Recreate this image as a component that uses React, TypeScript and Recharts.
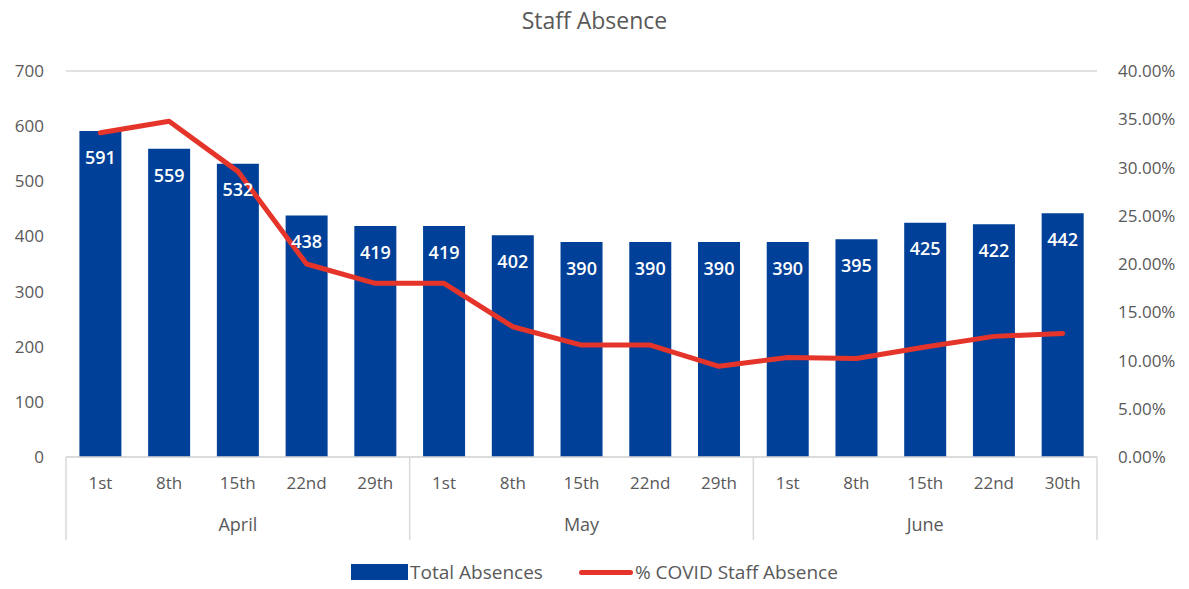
import React from 'react';
import { ComposedChart, Bar, Line, XAxis, YAxis, CartesianGrid, Legend, LabelList } from 'recharts';

const days = ['1st', '8th', '15th', '22nd', '29th', '1st', '8th', '15th', '22nd', '29th', '1st', '8th', '15th', '22nd', '30th'];
const months = ['April', 'April', 'April', 'April', 'April', 'May', 'May', 'May', 'May', 'May', 'June', 'June', 'June', 'June', 'June'];
const totalAbsences = [591, 559, 532, 438, 419, 419, 402, 390, 390, 390, 390, 395, 425, 422, 442];
const covidPct = [0.336, 0.348, 0.296, 0.2, 0.18, 0.18, 0.135, 0.116, 0.116, 0.094, 0.103, 0.102, 0.114, 0.125, 0.128];
const leftTicks = [0, 100, 200, 300, 400, 500, 600, 700];
const rightTicks = [0, 0.05, 0.1, 0.15, 0.2, 0.25, 0.3, 0.35, 0.4];

const data = days.map((d, i) => ({
  day: d,
  month: months[i],
  total: totalAbsences[i],
  pct: covidPct[i],
}));

const FONT = '"Open Sans", "Noto Sans", sans-serif';
const TEXT = '#595959';
const GRID = '#d9d9d9';
const BLUE = '#004098';
const RED = '#e5352a';

const MonthTick = (props: any) => {
  const { x, y, payload } = props;
  const idx = payload.index;
  const half = payload.offset || 34.37;
  const els: any[] = [];
  const top = y - 45 - 8;
  const bottom = y + 30;
  const isStart = idx === 0 || months[idx] !== months[idx - 1];
  const isEnd = idx === months.length - 1;
  if (isStart) {
    els.push(<line key="s" x1={x - half} x2={x - half} y1={top} y2={bottom} stroke={GRID} strokeWidth={1.5} />);
  }
  if (isEnd) {
    els.push(<line key="e" x1={x + half} x2={x + half} y1={top} y2={bottom} stroke={GRID} strokeWidth={1.5} />);
  }
  const first = months.indexOf(months[idx]);
  const last = months.lastIndexOf(months[idx]);
  const mid = (first + last) / 2;
  if (idx === Math.floor(mid)) {
    const shift = (mid - Math.floor(mid)) * 2 * half;
    els.push(
      <text key="t" x={x + shift} y={y + 21} textAnchor="middle" fill={TEXT} fontSize={18} fontFamily={FONT}>
        {months[idx]}
      </text>
    );
  }
  return <g>{els}</g>;
};

const renderLegend = () => (
  <div style={{ height: 42, display: 'flex', justifyContent: 'center', alignItems: 'center', fontFamily: FONT, fontSize: 19, color: TEXT, paddingTop: 8, boxSizing: 'border-box' }}>
    <span style={{ display: 'inline-flex', alignItems: 'center', marginRight: 36 }}>
      <span style={{ display: 'inline-block', width: 57, height: 16, background: BLUE, marginRight: 2 }} />
      Total Absences
    </span>
    <span style={{ display: 'inline-flex', alignItems: 'center' }}>
      <span style={{ display: 'inline-block', width: 54, height: 5, background: RED, borderRadius: 3, marginRight: 2 }} />
      % COVID Staff Absence
    </span>
  </div>
);

export default function App() {
  return (
    <div style={{ position: 'absolute', left: 0, top: 0, width: 1189, height: 589, background: '#fff' }}>
      <div style={{ position: 'absolute', left: 0, top: 4, width: 1189, textAlign: 'center', fontFamily: FONT, fontSize: 23, color: TEXT }}>
        Staff Absence
      </div>
      <ComposedChart
        width={1189}
        height={589}
        data={data}
        margin={{ top: 71, right: 0, left: 0, bottom: 0 }}
        barCategoryGap="19.5%"
      >
        <CartesianGrid vertical={false} stroke={GRID} strokeWidth={1.5} />
        <XAxis
          dataKey="day"
          xAxisId={0}
          height={45}
          axisLine={{ stroke: GRID, strokeWidth: 1.5 }}
          tickLine={false}
          tickMargin={14}
          tick={{ fill: TEXT, fontSize: 17, fontFamily: FONT }}
          interval={0}
        />
        <XAxis
          dataKey="month"
          xAxisId="m"
          height={45}
          axisLine={false}
          tickLine={false}
          tickMargin={2}
          tick={<MonthTick />}
          interval={0}
        />
        <YAxis
          yAxisId="left"
          width={66}
          domain={[0, 700]}
          ticks={leftTicks}
          axisLine={false}
          tickLine={false}
          tickMargin={16}
          tick={{ fill: TEXT, fontSize: 17, fontFamily: FONT }}
        />
        <YAxis
          yAxisId="right"
          orientation="right"
          width={92}
          domain={[0, 0.4]}
          ticks={rightTicks}
          axisLine={false}
          tickLine={false}
          tickMargin={15}
          tickFormatter={(v: number) => (v * 100).toFixed(2) + '%'}
          tick={{ fill: TEXT, fontSize: 17, fontFamily: FONT, textAnchor: 'start' }}
        />
        <Legend verticalAlign="bottom" content={renderLegend} height={42} />
        <Bar yAxisId="left" xAxisId={0} dataKey="total" name="Total Absences" fill={BLUE} isAnimationActive={false}>
          <LabelList dataKey="total" position="insideTop" offset={20} fill="#ffffff" fontSize={18} fontWeight={600} fontFamily={FONT} />
        </Bar>
        <Line
          yAxisId="right"
          xAxisId={0}
          dataKey="pct"
          name="% COVID Staff Absence"
          stroke={RED}
          strokeWidth={5}
          strokeLinecap="round"
          strokeLinejoin="round"
          dot={false}
          type="linear"
          isAnimationActive={false}
        />
      </ComposedChart>
    </div>
  );
}
